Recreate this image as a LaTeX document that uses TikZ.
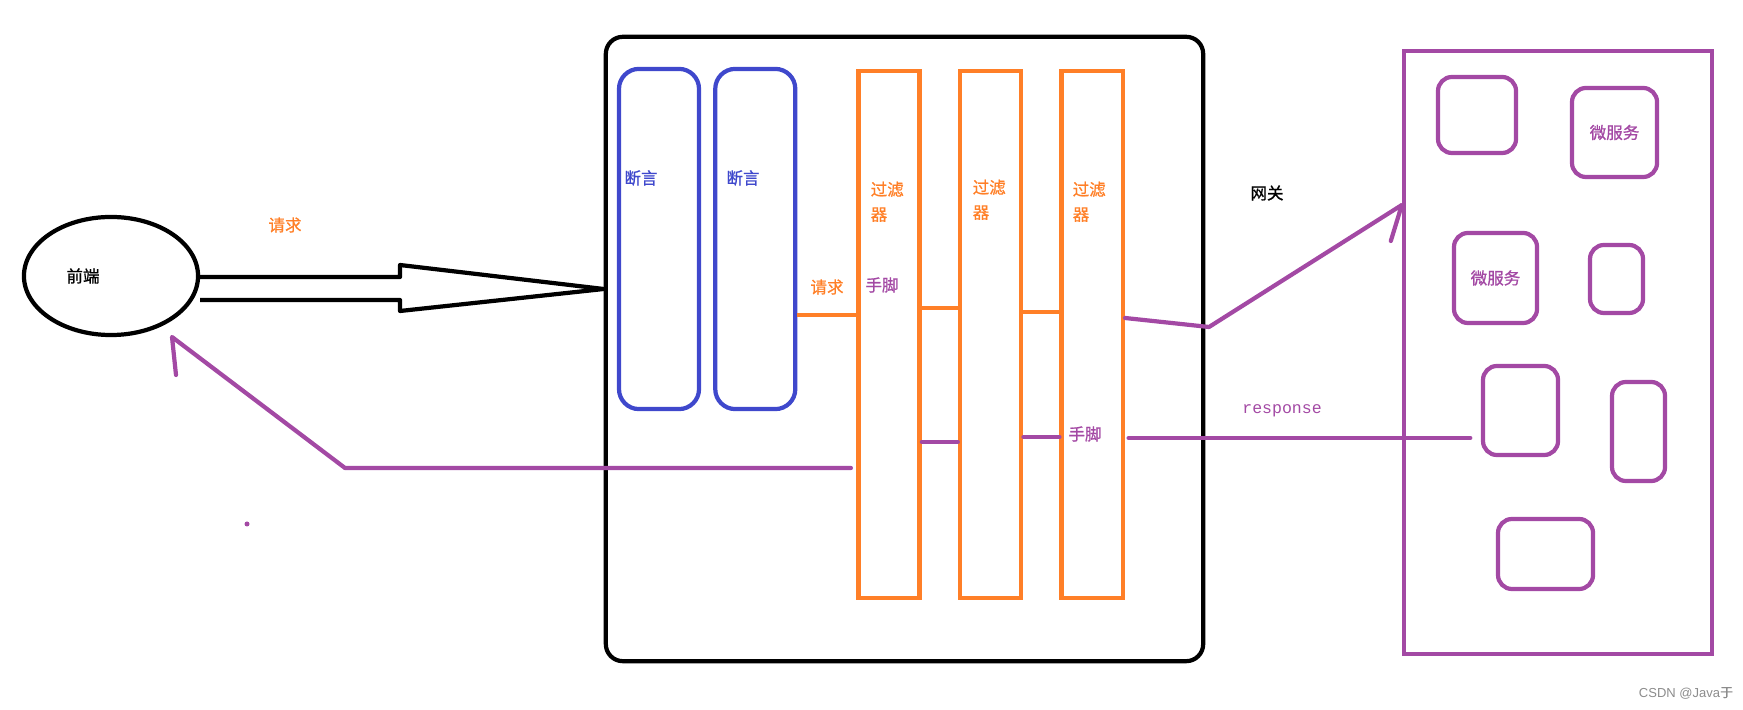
\documentclass[tikz,border=0pt]{standalone}
\usepackage{fontspec}
\setmainfont{Liberation Sans}
\newfontfamily\cjk[FakeBold=1]{Noto Sans CJK SC}
\newfontfamily\mono{Liberation Mono}
\usetikzlibrary{positioning}
\usetikzlibrary{shapes.geometric}
\definecolor{pblue}{HTML}{3F48CC}
\definecolor{porange}{HTML}{FF7F27}
\definecolor{ppurple}{HTML}{A349A4}
\tikzset{front node/.style={shape=ellipse, draw, line width=1.2pt,
    minimum width=1.74cm, minimum height=1.18cm, inner sep=0pt},
  gate node/.style={shape=rectangle, draw, line width=1.2pt,
    rounded corners=0.17cm, minimum width=5.97cm, minimum height=6.24cm},
  pred node/.style={shape=rectangle, draw=pblue, line width=1.2pt,
    rounded corners=0.2cm, minimum width=0.8cm, minimum height=3.4cm},
  filter node/.style={shape=rectangle, draw=porange, line width=1.3pt,
    minimum width=0.61cm, minimum height=5.27cm},
  ms node/.style={shape=rectangle, draw=ppurple, line width=1.2pt,
    minimum width=3.08cm, minimum height=6.03cm},
  svc node/.style={shape=rectangle, draw=ppurple, line width=1.2pt,
    rounded corners=0.14cm, text=ppurple, inner sep=0pt,
    font=\cjk\fontsize{4.7}{6}\selectfont},
  label text/.style={inner sep=0pt, font=\cjk\fontsize{4.7}{7.1}\selectfont},
  purple line/.style={draw=ppurple, line width=1.2pt, line cap=round, line join=round},
  orange line/.style={draw=porange, line width=1.2pt}}

\begin{document}
\begin{tikzpicture}[x=0.01cm,y=-0.01cm]
    \useasboundingbox (0,0) rectangle (1743,710);

    \node[front node] (1) at (111,276) {};
    \node[gate node] (2) at (904.5,349) {};

    \node[pred node] (3) at (659,239) {};
    \node[pred node] (4) [right = 0.12cm of 3] {};

    \node[filter node] (5) at (889,334.5) {};
    \node[filter node] (6) [right = 0.36cm of 5] {};
    \node[filter node] (7) [right = 0.36cm of 6] {};

    \node[ms node] (8) at (1558,352.5) {};
    \node[svc node, minimum width=0.78cm, minimum height=0.76cm] (9) at (1477,115) {};
    \node[svc node, minimum width=0.85cm, minimum height=0.89cm] (10) at (1614.5,132.5) {微服务};
    \node[svc node, minimum width=0.83cm, minimum height=0.90cm] (11) at (1495.5,278) {微服务};
    \node[svc node, minimum width=0.53cm, minimum height=0.68cm] (12) at (1616.5,279) {};
    \node[svc node, minimum width=0.75cm, minimum height=0.89cm] (13) at (1520.5,410.5) {};
    \node[svc node, minimum width=0.53cm, minimum height=0.99cm] (14) at (1638.5,431.5) {};
    \node[svc node, minimum width=0.95cm, minimum height=0.70cm] (15) at (1545.5,554) {};

    % texts
    \node[label text] (t1) at (83,276) {前端};
    \node[label text, text=porange] (t2) at (285,225) {请求};
    \node[label text, text=pblue] (t3) at (641,178) {断言};
    \node[label text, text=pblue] (t4) at (743,178) {断言};
    \node[label text, text=porange, align=left, anchor=north west] (t5) at (870,181) {过滤\\器};
    \node[label text, text=porange, align=left, anchor=north west] (t6) at (972,179) {过滤\\器};
    \node[label text, text=porange, align=left, anchor=north west] (t7) at (1072,181) {过滤\\器};
    \node[label text, text=porange] (t8) at (827,287) {请求};
    \node[label text, text=ppurple] (t9) at (882,285) {手脚};
    \node[label text, text=ppurple] (t10) at (1085,434) {手脚};
    \node[label text] (t11) at (1267,193) {网关};
    \node[inner sep=0pt, text=ppurple, font=\mono\fontsize{4.7}{6}\selectfont] (t12) at (1282,411) {response};
    \node[inner sep=0pt, text=black!45, font=\fontsize{3.7}{4.5}\selectfont] (t13) at (1686,693) {CSDN @Java\cjk 于};

    % request arrow
    \coordinate (tip) at (2.west |- 0,289);
    \draw[line width=1.2pt, line join=round]
    (1.east |- 0,277) -- (400,277) -- (400,265) -- (tip)
    -- (400,311) -- (400,300) -- (1.east |- 0,300);

    % request through the chain
    \path[orange line]
    (4.east |- 0,315) edge (5.west |- 0,315)
    (5.east |- 0,308) edge (6.west |- 0,308)
    (6.east |- 0,312) edge (7.west |- 0,312);

    % to the services
    \path[purple line]
    (7.east |- 0,318) -- (1209,327) -- (8.west |- 0,205) -- ++(-11,36);

    % response back
    \coordinate (back) at (172,337);
    \path[purple line]
    ([xshift=-3pt]13.west |- 0,438) edge ([xshift=1pt]7.east |- 0,438)
    (6.east |- 0,437) edge (7.west |- 0,437)
    (5.east |- 0,442) edge (6.west |- 0,442);
    \path[purple line]
    ([xshift=-1.5pt]5.west |- 0,468) -- (345,468) -- (back) -- ++(4,38);

    \fill[ppurple] (247,524) circle (0.025cm);
\end{tikzpicture}
\end{document}
